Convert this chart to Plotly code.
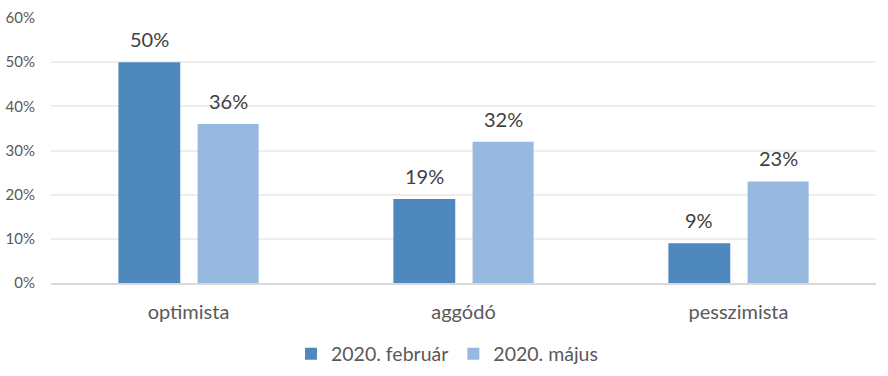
import plotly.graph_objects as go

categories = ["optimista", "aggódó", "pesszimista"]
feb_values = [0.50, 0.19, 0.09]
maj_values = [0.36, 0.32, 0.23]
series_names = ["2020. február", "2020. május"]
tick_vals = [0, 0.1, 0.2, 0.3, 0.4, 0.5, 0.6]
tick_text = ["0%", "10%", "20%", "30%", "40%", "50%", "60%"]

FONT = "Lato, Carlito, Calibri, sans-serif"
c_feb = "#4F88BC"
c_maj = "#98B9DF"
W_FEB, OFF_FEB = 0.225, -0.255
W_MAJ, OFF_MAJ = 0.222, 0.033

fig = go.Figure()
fig.add_trace(go.Bar(
    x=categories, y=feb_values, name=series_names[0],
    marker=dict(color=c_feb, line=dict(width=0)),
    width=W_FEB, offset=OFF_FEB,
))
fig.add_trace(go.Bar(
    x=categories, y=maj_values, name=series_names[1],
    marker=dict(color=c_maj, line=dict(width=0)),
    width=W_MAJ, offset=OFF_MAJ,
))

for vals, w, off in [(feb_values, W_FEB, OFF_FEB), (maj_values, W_MAJ, OFF_MAJ)]:
    for i, v in enumerate(vals):
        fig.add_annotation(
            x=i + off + w / 2, y=v, text=f"{round(v*100)}%", showarrow=False,
            xref="x", yref="y", yanchor="bottom", yshift=9,
            font=dict(size=20, color="#404040", family=FONT),
        )

fig.update_layout(
    width=888, height=376,
    margin=dict(l=51, r=12, t=18, b=93, autoexpand=False),
    paper_bgcolor="white", plot_bgcolor="white",
    barmode="group",
    font=dict(family=FONT, color="#595959"),
    showlegend=True,
    legend=dict(orientation="h", x=0.48, xanchor="center", y=-0.268, yanchor="middle",
                font=dict(size=19.5, color="#595959", family=FONT),
                itemsizing="constant", traceorder="normal"),
    xaxis=dict(showgrid=False, showline=True, linecolor="#D9D9D9", linewidth=1.5,
               tickfont=dict(size=20, color="#595959", family=FONT), ticks="",
               ticklabelstandoff=10, automargin=False),
    yaxis=dict(range=[0, 0.6], tickvals=tick_vals, ticktext=tick_text,
               showgrid=True, gridcolor="#EEEEEE", gridwidth=1.5, zeroline=False,
               tickfont=dict(size=15, color="#595959", family=FONT),
               ticklabelstandoff=15, showline=False, automargin=False),
)
fig.write_html("out.html", config={"displayModeBar": False},
               post_script="document.body.style.margin='0';")
